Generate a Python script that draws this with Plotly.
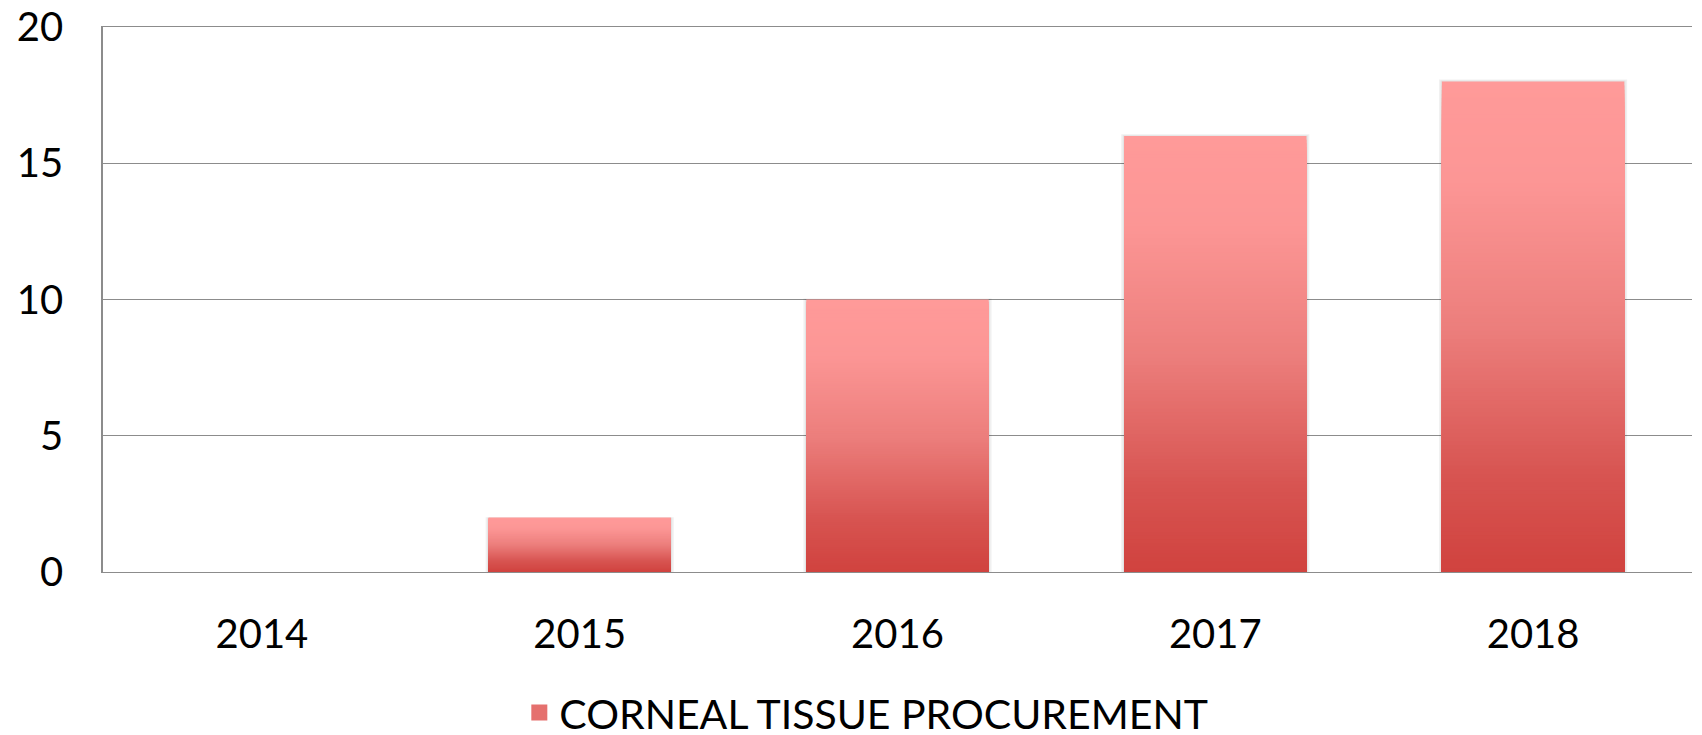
import plotly.graph_objects as go

years = ["2014", "2015", "2016", "2017", "2018"]
values = [0, 2, 10, 16, 18]
series_name = "CORNEAL TISSUE PROCUREMENT"
y_ticks = [0, 5, 10, 15, 20]

# gradient stops (fraction from top of bar -> rgb)
stops = [(0.0, (255, 154, 153)), (0.2, (252, 150, 149)), (0.5, (236, 126, 124)),
         (0.8, (215, 84, 81)), (1.0, (208, 66, 62))]

def grad(t):
    for (a, ca), (b, cb) in zip(stops[:-1], stops[1:]):
        if a <= t <= b:
            f = (t - a) / (b - a) if b > a else 0
            c = [round(ca[i] + (cb[i] - ca[i]) * f) for i in range(3)]
            return "rgb(%d,%d,%d)" % tuple(c)
    return "rgb(%d,%d,%d)" % stops[-1][1]

BW = 0.574
fig = go.Figure()
# soft shadow
fig.add_trace(go.Bar(x=years, y=[v * 1.004 for v in values], width=BW + 0.018,
                     marker=dict(color="rgba(0,0,0,0.06)", line_width=0),
                     showlegend=False, hoverinfo="skip"))
fig.add_trace(go.Bar(x=years, y=[v * 1.002 for v in values], width=BW + 0.008,
                     marker=dict(color="rgba(0,0,0,0.05)", line_width=0),
                     showlegend=False, hoverinfo="skip"))
N = 120
for k in range(N):
    frac = 1 - k / N  # height fraction covered by this layer
    t = k / N
    fig.add_trace(go.Bar(x=years, y=[v * frac for v in values], width=BW,
                         marker=dict(color=grad(t), line_width=0),
                         name=series_name, legendgroup="g",
                         showlegend=False, hoverinfo="skip"))
# legend entry (square swatch)
fig.add_trace(go.Scatter(x=[None], y=[None], mode="markers", name=series_name,
                         marker=dict(symbol="square", size=24, color=grad(0.6),
                                     line_width=0),
                         showlegend=True))

fig.update_layout(
    width=1702, height=735,
    barmode="overlay",
    plot_bgcolor="white", paper_bgcolor="white",
    margin=dict(l=103, r=10, t=27, b=163, autoexpand=False),
    font=dict(family="Lato, Carlito, Calibri, sans-serif", size=40, color="black"),
    legend=dict(orientation="h", xref="container", yref="container",
                x=0.509, xanchor="center", y=0.030, yanchor="middle",
                font=dict(size=41), itemsizing="trace"),
    xaxis=dict(showgrid=False, ticks="", ticklabelstandoff=27, automargin=False,
               showline=True, mirror=True, linecolor="#8c8c8c", linewidth=1.4,
               type="category"),
    yaxis=dict(range=[0, 20], tickvals=y_ticks, showgrid=True, gridcolor="#8c8c8c",
               gridwidth=1.3, showline=True, linecolor="#8c8c8c", linewidth=1.5,
               automargin=False, ticklabeloverflow="allow",
               ticks="", ticklabelstandoff=30, zeroline=False),
)
fig.write_html("out.html", config={"displayModeBar": False},
               post_script="document.body.style.margin='0px';")
